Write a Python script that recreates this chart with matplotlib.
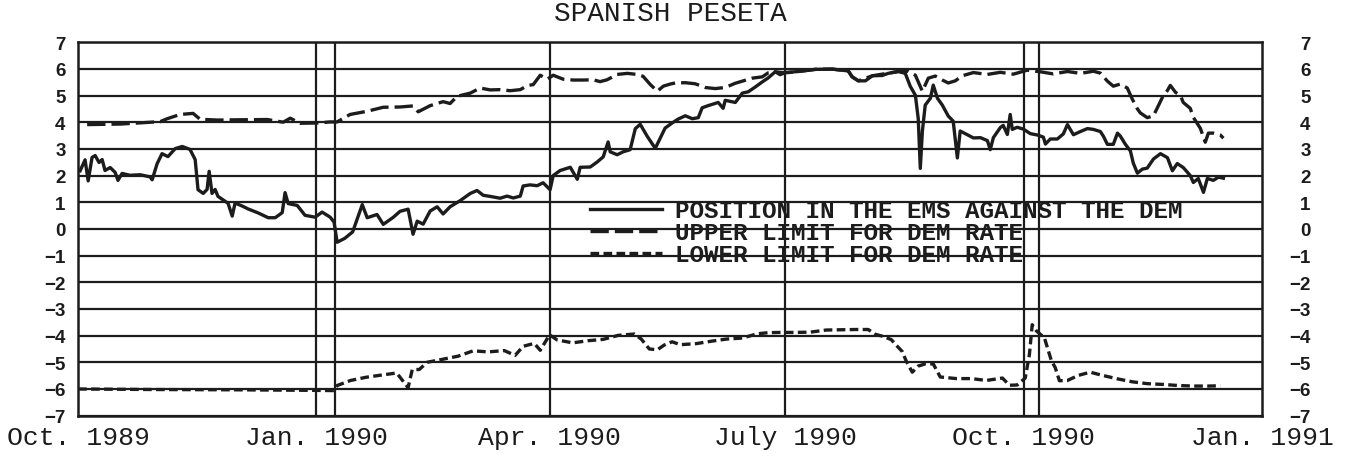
import numpy as np
import matplotlib
matplotlib.use("Agg")
import matplotlib.pyplot as plt

# day numbers counted from 1 Oct 1989, values in percent
position_days = [0.8, 2.7, 3.9, 5.4, 6.6, 8.1, 9.3, 10.4, 12.4, 14.3,
                 15.4, 17, 20, 24, 27.8, 28.6, 30.5, 32.4, 34.7, 37.5,
                 40.2, 43.2, 45.2, 46.3, 48.3, 49.8, 50.6, 51.7, 52.9, 54,
                 57.9, 59.5, 60.6, 63.3, 65.6, 69.5, 73.4, 76.1, 78.8, 79.9,
                 81.1, 84.6, 87.6, 91.5, 94.2, 97.3, 98.8, 100, 103, 106,
                 109.7, 111.6, 115.4, 117.8, 121.6, 124.3, 127.4, 129.3, 130.9, 133.2,
                 135.9, 138.6, 140.9, 143.6, 147.5, 151.4, 154, 156.4, 159, 162.9,
                 165.6, 168, 170.7, 171.8, 174.5, 177.2, 179.5, 182.2, 183.4, 186.1,
                 190, 192.7, 193.8, 197.7, 200.4, 202.7, 204.6, 205.4, 208.1, 210.4,
                 213.1, 215.1, 217, 219.7, 222.8, 224.7, 226.6, 229.3, 231.7, 234.4,
                 237.1, 239.4, 240.9, 243.2, 247.1, 249, 249.8, 253.7, 256.4, 258.7,
                 261.4, 264.1, 266.4, 269.1, 271, 273, 278, 284.6, 291.1, 297.3,
                 298.8, 301.2, 303.9, 306.6, 310.4, 312.7, 316.6, 319.3, 321.2, 323.2,
                 324.3, 325.1, 325.9, 327, 329, 330.1, 331.7, 333.6, 335.9, 337.8,
                 339.4, 340.5, 343.2, 345.6, 348.3, 351, 352.1, 353.3, 356, 357.1,
                 358.7, 359.8, 360.6, 362.5, 364.9, 367.6, 370.3, 372.6, 373.4, 375.3,
                 378, 380.3, 381.9, 384.2, 386.9, 389.6, 391.9, 394.6, 395.8, 397.3,
                 399.6, 401.2, 402.3, 404.2, 406.2, 407.3, 408.9, 410.8, 412.7, 415.1,
                 417.8, 420.5, 422.4, 424.3, 426.6, 429.3, 430.5, 432.4, 434.4, 435.9,
                 438.2, 440.2, 442.1]
position_vals = [2.18, 2.59, 1.80, 2.68, 2.75, 2.49, 2.6, 2.19, 2.3, 2.12,
                 1.82, 2.08, 2.01, 2.03, 1.95, 1.84, 2.44, 2.82, 2.71, 3.01,
                 3.09, 2.98, 2.6, 1.47, 1.33, 1.48, 2.16, 1.33, 1.48, 1.22,
                 0.96, 0.48, 0.97, 0.86, 0.75, 0.6, 0.42, 0.42, 0.61, 1.36,
                 0.95, 0.88, 0.51, 0.44, 0.63, 0.44, 0.26, -0.5, -0.35, -0.11,
                 0.91, 0.42, 0.54, 0.17, 0.43, 0.66, 0.74, -0.2, 0.29, 0.18,
                 0.67, 0.83, 0.56, 0.83, 1.06, 1.33, 1.44, 1.26, 1.22, 1.15,
                 1.23, 1.16, 1.23, 1.61, 1.65, 1.62, 1.73, 1.47, 2.0, 2.19,
                 2.31, 1.86, 2.31, 2.32, 2.51, 2.7, 3.26, 2.89, 2.78, 2.89,
                 2.97, 3.76, 3.92, 3.47, 3.02, 3.4, 3.78, 3.97, 4.12, 4.24,
                 4.13, 4.17, 4.54, 4.62, 4.74, 4.52, 4.82, 4.74, 5.09, 5.14,
                 5.32, 5.51, 5.66, 5.89, 5.78, 5.86, 5.9, 5.98, 5.99, 5.92,
                 5.7, 5.55, 5.55, 5.74, 5.75, 5.83, 5.9, 5.83, 5.35, 5.01,
                 4.14, 2.27, 3.66, 4.64, 4.9, 5.39, 4.9, 4.64, 4.23, 4.04,
                 2.66, 3.67, 3.53, 3.41, 3.42, 3.31, 2.97, 3.42, 3.8, 3.88,
                 3.54, 4.29, 3.73, 3.81, 3.74, 3.57, 3.52, 3.44, 3.18, 3.37,
                 3.37, 3.56, 3.91, 3.53, 3.65, 3.76, 3.73, 3.65, 3.47, 3.17,
                 3.17, 3.59, 3.48, 3.18, 2.92, 2.47, 2.09, 2.24, 2.28, 2.62,
                 2.82, 2.67, 2.18, 2.45, 2.3, 2.0, 1.74, 1.89, 1.37, 1.89,
                 1.82, 1.94, 1.9]

upper_days = [3.5, 16.2, 31.7, 34.4, 39.4, 44.4, 47.1, 53.7, 62.5, 73,
              79.2, 81.9, 85.7, 92.3, 97.3, 100, 105, 111.6, 117.8, 124.3,
              129.3, 131.3, 135.9, 140.9, 143.6, 146.3, 151.4, 155.2, 159.1, 162.9,
              166.8, 170.7, 173.4, 175.7, 178.4, 181.1, 183.4, 187.3, 191.1, 195,
              198.8, 201.5, 204.2, 208.1, 212, 215.8, 218.1, 220.8, 223.6, 225.9,
              228.6, 230.5, 234.4, 238.2, 242.1, 245.9, 249.8, 253.7, 257.5, 260.2,
              264.1, 266.4, 269.1, 271.8, 274.1, 278, 284.6, 291.1, 297.3, 298.8,
              301.2, 306.6, 311.6, 316.6, 320.5, 323.2, 325.9, 328.2, 330.9, 333.6,
              335.9, 338.6, 341.3, 345.6, 351, 356, 361, 366.4, 371.4, 376.4,
              381.9, 386.9, 391.9, 394.6, 397.3, 399.6, 402.3, 405, 406.9, 408.9,
              410, 412.7, 415.1, 416.6, 418.5, 420.5, 421.6, 423.6, 425.5, 426.6,
              429.3, 430.5, 433.2, 435.1, 436.3, 438.2, 440.9, 442.1]
upper_vals = [3.91, 3.93, 4.02, 4.13, 4.29, 4.33, 4.11, 4.08, 4.09, 4.1,
              4.0, 4.15, 3.96, 3.97, 4.01, 4.01, 4.29, 4.41, 4.56, 4.57,
              4.61, 4.39, 4.62, 4.77, 4.7, 4.97, 5.09, 5.28, 5.21, 5.22,
              5.18, 5.22, 5.37, 5.41, 5.76, 5.61, 5.76, 5.61, 5.58, 5.58,
              5.59, 5.52, 5.59, 5.79, 5.83, 5.79, 5.72, 5.42, 5.16, 5.35,
              5.43, 5.47, 5.48, 5.44, 5.3, 5.26, 5.3, 5.46, 5.57, 5.65,
              5.7, 5.85, 5.89, 5.86, 5.86, 5.9, 5.98, 5.99, 5.92, 5.7,
              5.55, 5.74, 5.82, 5.9, 5.91, 5.76, 5.16, 5.65, 5.73, 5.58,
              5.47, 5.55, 5.74, 5.86, 5.79, 5.87, 5.8, 5.95, 5.89, 5.81,
              5.9, 5.83, 5.91, 5.84, 5.54, 5.35, 5.43, 5.28, 4.87, 4.5,
              4.35, 4.17, 4.24, 4.54, 4.92, 5.19, 5.38, 5.12, 5.0, 4.74,
              4.52, 4.18, 3.77, 3.25, 3.59, 3.59, 3.52, 3.4]

lower_days = [0, 30, 60, 90, 98.5, 100, 105.2, 111.2, 117, 123,
              127.4, 129, 131.7, 134.7, 140.5, 146.7, 152.5, 158.3, 164.5, 168.7,
              171.8, 176.1, 178.4, 182, 184.9, 190.9, 196.9, 202.7, 208.5, 214.7,
              217.4, 220.5, 223.6, 226.3, 229.3, 232.4, 238.6, 244.4, 250.2, 256.4,
              262.2, 266.4, 271, 276.8, 282.6, 288.8, 294.6, 300.4, 305, 307.7,
              310.8, 313.9, 316.6, 318.1, 319.7, 322, 324.3, 327, 330.1, 332.8,
              339, 344.8, 350.6, 356.8, 359.5, 362.5, 365.6, 367.2, 368.3, 369.9,
              373, 374.5, 375.7, 377.2, 378.8, 381.9, 386.1, 390.7, 395, 401.2,
              406.9, 412.7, 418.9, 424.7, 430.5, 436.3, 440.9]
lower_vals = [-6.0, -6.02, -6.03, -6.05, -6.06, -5.87, -5.68, -5.56, -5.48, -5.4,
              -5.95, -5.27, -5.27, -5.0, -4.89, -4.77, -4.57, -4.61, -4.56, -4.74,
              -4.4, -4.29, -4.55, -3.97, -4.16, -4.27, -4.19, -4.14, -3.99, -3.94,
              -4.13, -4.5, -4.53, -4.35, -4.23, -4.34, -4.3, -4.21, -4.13, -4.09,
              -3.93, -3.89, -3.88, -3.88, -3.87, -3.79, -3.78, -3.77, -3.77, -3.95,
              -4.03, -4.15, -4.44, -4.59, -4.96, -5.37, -5.14, -5.06, -5.06, -5.55,
              -5.61, -5.61, -5.68, -5.59, -5.86, -5.85, -5.59, -4.72, -3.59, -3.82,
              -4.08, -4.56, -4.94, -5.2, -5.69, -5.68, -5.49, -5.37, -5.48, -5.62,
              -5.73, -5.8, -5.83, -5.87, -5.89, -5.89, -5.88]

tick_dates = ['1989-10-01', '1990-01-01', '1990-04-01', '1990-07-01', '1990-10-01', '1991-01-01']
tick_labels = ['Oct. 1989', 'Jan. 1990', 'Apr. 1990', 'July 1990', 'Oct. 1990', 'Jan. 1991']
marker_dates = ['1990-01-01', '1990-01-08', '1990-04-01', '1990-07-01', '1990-10-01', '1990-10-07']
series_labels = ['POSITION IN THE EMS AGAINST THE DEM',
                 'UPPER LIMIT FOR DEM RATE',
                 'LOWER LIMIT FOR DEM RATE']
y_levels = list(range(-7, 8))

start = np.datetime64('1989-10-01')
def to_day(d):
    return float((np.datetime64(d) - start) / np.timedelta64(1, 'D'))

ink = '#1c1c1c'
mono = 'Liberation Mono'
sans = 'Liberation Sans'

fig = plt.figure(figsize=(13.46, 4.64), dpi=100)
ax = fig.add_axes([0.058, 0.102, 0.8796, 0.805])

for lv in y_levels:
    ax.axhline(lv, color=ink, lw=1.6, zorder=1)
for d in marker_dates:
    ax.axvline(to_day(d), color=ink, lw=1.6, zorder=1)

ax.plot(position_days, position_vals, color=ink, lw=2.4, zorder=3,
        label=series_labels[0])
up, = ax.plot(upper_days, upper_vals, color=ink, lw=2.4, zorder=3,
              label=series_labels[1])
up.set_dashes([5.5, 1.8])
lo, = ax.plot(lower_days, lower_vals, color=ink, lw=2.4, zorder=3,
              label=series_labels[2])
lo.set_dashes([2.6, 1.3])

ax.set_xlim(0, to_day('1991-01-01'))
ax.set_ylim(-7, 7)
for s in ax.spines.values():
    s.set_color(ink)
    s.set_linewidth(1.8)

ylabels = [str(v).replace('-', '\u2212') for v in y_levels]
ax.set_yticks(y_levels)
ax.set_yticklabels(ylabels, fontfamily=sans, fontweight='bold', fontsize=13.5, color=ink)
ax.tick_params(axis='y', length=0, pad=9)

ax.set_xticks([to_day(d) for d in tick_dates])
ax.set_xticklabels(tick_labels, fontfamily=mono, fontsize=19, color=ink)
ax.tick_params(axis='x', length=0, pad=7)

ax2 = ax.twinx()
ax2.set_ylim(-7, 7)
ax2.set_yticks(y_levels)
ax2.set_yticklabels(ylabels, fontfamily=sans, fontweight='bold', fontsize=13.5,
                    color=ink, ha='right')
ax2.tick_params(axis='y', length=0, pad=35)
for s in ax2.spines.values():
    s.set_visible(False)

ax.set_title('SPANISH PESETA', fontfamily=mono, fontsize=20, color=ink, pad=16)

handles, labels = ax.get_legend_handles_labels()
leg = ax.legend(handles, labels, loc='upper left', bbox_to_anchor=(0.432, 0.58),
                frameon=False, handlelength=3.0, handletextpad=0.5,
                labelspacing=-0.04, borderpad=0, borderaxespad=0,
                prop={'family': mono, 'weight': 'bold', 'size': 17.5})
for t in leg.get_texts():
    t.set_color(ink)

fig.savefig('out.png', dpi=100)
